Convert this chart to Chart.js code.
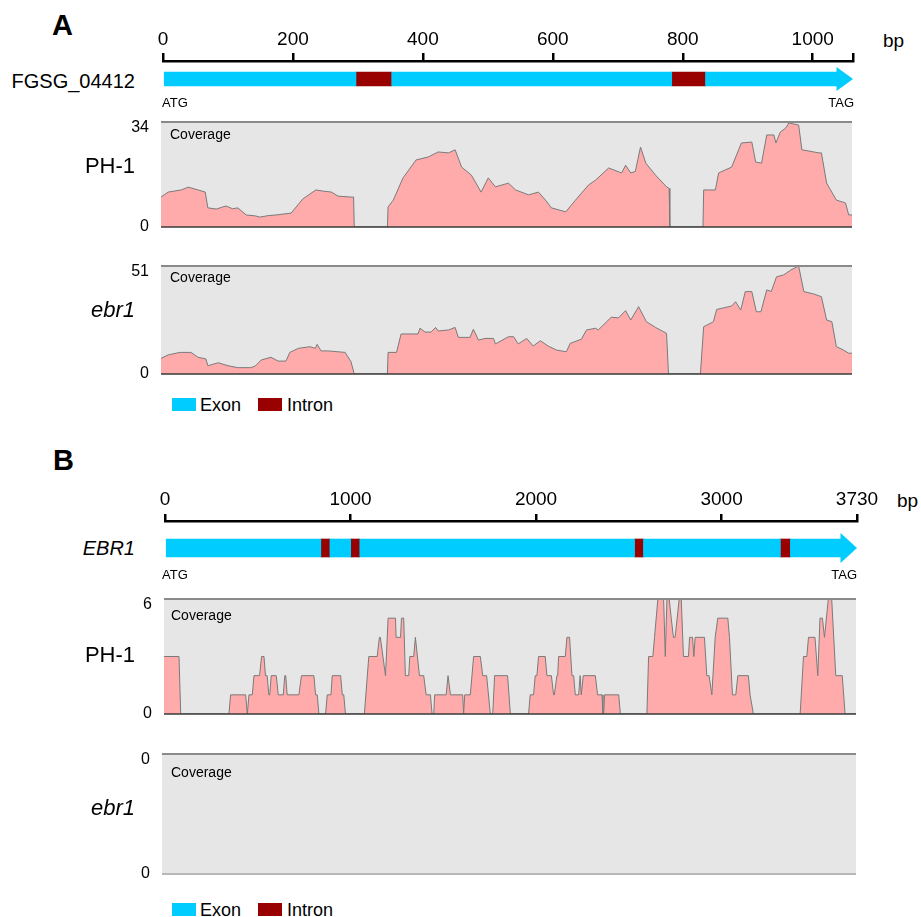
<!DOCTYPE html>
<html>
<head>
<meta charset="utf-8">
<script src="https://cdn.jsdelivr.net/npm/chart.js@4.4.1/dist/chart.umd.min.js"></script>
<style>
    body { margin: 0; background: #fff; }
    #fig { position: relative; width: 921px; height: 917px; overflow: hidden;
           font-family: "Liberation Sans", Arial, Helvetica, sans-serif; color: #000; }
    #fig canvas { position: absolute; }
    .lbl { position: absolute; line-height: 1; white-space: nowrap; }
    .key { position: absolute; width: 24px; height: 13px; }
</style>
</head>
<body>
<div id="fig"></div>
<script>
// ---- panel A : FGSG_04412 ----
const A_GENE = "FGSG_04412";
const A_LENGTH = 1062;
const A_TICKS = [0, 200, 400, 600, 800, 1000, 1062];
const A_TICK_LABELS = ["0", "200", "400", "600", "800", "1000", ""];
const A_EXONS = [[0, 297], [352, 783], [835, 1062]];
const A_INTRONS = [[297, 352], [783, 835]];
const A_PH1_RANGE = [0, 34];
const A_EBR1_RANGE = [0, 51];

// [bp, coverage]
const A_PH1 = [
    [0, 9.7], [11, 11.3], [31, 12], [42, 12.9], [57, 12], [68, 11.3], [72, 6.2], [85, 5.8],
    [95, 6.5], [100, 6.8], [110, 5.9], [118, 6.2], [131, 3.9], [145, 3.6], [152, 3.2],
    [165, 3.7], [177, 3.9], [200, 4.5], [218, 9.1], [238, 12], [250, 11.6], [262, 11.3],
    [272, 10], [291, 9.7], [296, 9.7], [297, 0], [348, 0], [349, 6.5], [357, 8.7],
    [372, 15.9], [392, 21.7], [411, 22.7], [426, 24.3], [442, 24], [452, 25], [462, 19.4],
    [477, 16.8], [492, 11.3], [503, 15.9], [514, 13], [534, 14.2], [545, 12], [565, 10.4],
    [580, 11.3], [591, 8.7], [600, 6.2], [622, 4.9], [637, 8.7], [657, 13.6], [668, 15.2],
    [688, 19.1], [708, 17.5], [714, 20], [722, 17.5], [729, 18], [737, 25.9], [745, 20.7],
    [760, 16.8], [777, 13], [781, 12.5], [782, 0], [833, 0], [834, 12], [852, 12],
    [857, 17.5], [877, 19.4], [892, 27.2], [908, 27.5], [914, 21], [923, 20.7], [931, 29.8],
    [942, 29.8], [945, 27.2], [952, 30.8], [960, 32], [965, 33.7], [980, 33], [985, 25],
    [1011, 24], [1015, 24], [1023, 14.2], [1038, 8.7], [1052, 7.8], [1057, 3.9], [1062, 3.9]
];

const A_EBR1 = [
    [0, 7.4], [11, 9], [29, 10.2], [46, 10.2], [57, 7.9], [69, 7.1], [72, 3.9], [88, 5.3],
    [103, 3.9], [118, 3], [138, 3], [145, 3.8], [154, 6.6], [169, 7.9], [180, 6.1],
    [192, 6.1], [198, 10.2], [211, 12.1], [229, 12.9], [237, 12.1], [240, 14], [246, 10.9],
    [257, 10.9], [283, 10.2], [292, 5.8], [297, 0], [348, 0], [349, 10.2], [362, 10.2],
    [369, 18.9], [395, 18.9], [398, 21.6], [406, 19.8], [415, 19.8], [422, 22], [426, 20.3],
    [442, 20.8], [452, 22], [457, 17.3], [475, 17.3], [480, 21.1], [488, 16], [498, 16.8],
    [511, 16.8], [514, 14.2], [534, 17.6], [542, 17.6], [549, 14.2], [562, 16.8], [572, 13.2],
    [583, 15.7], [595, 13.2], [608, 11.3], [623, 10.5], [629, 14.5], [646, 16.4], [654, 20.8],
    [668, 21.6], [672, 20.8], [692, 26.8], [703, 26.5], [714, 29.9], [722, 25.5], [734, 31.8],
    [746, 24.7], [760, 22], [777, 19.2], [780, 0], [829, 0], [834, 22.3], [849, 24.7],
    [854, 30.5], [877, 32.1], [883, 34.1], [891, 30.2], [898, 38.9], [908, 38.9], [915, 29.4],
    [922, 29.4], [931, 39.7], [938, 39], [946, 45.9], [957, 46.8], [968, 49.1], [980, 51],
    [988, 38.9], [1003, 37.8], [1015, 36.5], [1023, 25.5], [1031, 24.7], [1038, 12.9],
    [1049, 11.3], [1057, 9.8], [1062, 9.8]
];

// ---- panel B : EBR1 ----
const B_GENE = "EBR1";
const B_LENGTH = 3730;
const B_TICKS = [0, 1000, 2000, 3000, 3730];
const B_TICK_LABELS = ["0", "1000", "2000", "3000", "3730"];
const B_EXONS = [[0, 840], [889, 1001], [1050, 2531], [2579, 3317], [3371, 3730]];
const B_INTRONS = [[840, 889], [1001, 1050], [2531, 2579], [3317, 3371]];
const B_PH1_RANGE = [0, 6];
const B_EBR1_RANGE = [0, 0];

const B_PH1 = [
    [0, 3], [81, 3], [90, 0], [350, 0], [359, 1], [440, 1], [449, 0], [458, 1], [476, 1],
    [485, 2], [515, 2], [526, 3], [539, 3], [547, 2], [556, 2], [565, 1], [570, 1], [578, 2],
    [605, 2], [616, 1], [643, 1], [651, 2], [656, 2], [664, 1], [727, 1], [741, 2], [808, 2],
    [817, 1], [826, 1], [835, 0], [871, 0], [880, 1], [900, 1], [907, 2], [952, 2], [961, 1],
    [969, 1], [978, 0], [1080, 0], [1104, 3], [1149, 3], [1161, 4], [1166, 4], [1194, 2],
    [1208, 5], [1248, 5], [1251, 4], [1275, 4], [1280, 5], [1292, 5], [1301, 2], [1319, 2],
    [1325, 3], [1346, 3], [1355, 4], [1377, 2], [1400, 2], [1413, 1], [1436, 1], [1445, 0],
    [1454, 0], [1459, 1], [1521, 1], [1531, 2], [1544, 1], [1610, 1], [1615, 0], [1621, 1],
    [1651, 1], [1660, 2], [1669, 3], [1705, 3], [1718, 2], [1739, 2], [1759, 0], [1772, 0],
    [1782, 2], [1852, 2], [1867, 0], [1965, 0], [1974, 1], [1992, 1], [2001, 2], [2010, 2],
    [2019, 3], [2055, 3], [2064, 2], [2088, 2], [2100, 1], [2104, 1], [2118, 2], [2122, 2],
    [2127, 3], [2163, 3], [2172, 4], [2186, 4], [2199, 2], [2208, 2], [2217, 1], [2235, 1],
    [2243, 2], [2249, 1], [2252, 1], [2260, 2], [2325, 2], [2337, 1], [2361, 1], [2366, 0],
    [2370, 0], [2375, 1], [2451, 1], [2460, 0], [2603, 0], [2612, 3], [2635, 3], [2644, 4],
    [2662, 6], [2693, 6], [2702, 3], [2711, 6], [2723, 6], [2734, 5], [2746, 4], [2755, 4],
    [2777, 6], [2788, 6], [2800, 3], [2827, 3], [2833, 4], [2849, 4], [2856, 3], [2863, 4],
    [2913, 4], [2926, 2], [2938, 2], [2953, 1], [2971, 4], [2985, 5], [3039, 5], [3048, 4],
    [3064, 1], [3082, 1], [3093, 2], [3150, 2], [3159, 1], [3177, 0], [3429, 0], [3447, 3],
    [3465, 3], [3474, 4], [3509, 4], [3524, 2], [3536, 5], [3549, 5], [3560, 4], [3581, 6],
    [3599, 6], [3621, 2], [3656, 2], [3671, 0], [3730, 0]
];
const B_EBR1 = []; // no reads

const EXON_COLOR = "#00ccff";
const INTRON_COLOR = "#990000";
const COV_FILL = "#ffabab";
const COV_LINE = "#7a7a7a";
const FONT = '"Liberation Sans", Arial, Helvetica, sans-serif';

Chart.defaults.font.family = FONT;
Chart.defaults.color = "#000";

const fig = document.getElementById("fig");

function addCanvas(left, top, width, height) {
    const c = document.createElement("canvas");
    c.width = width;
    c.height = height;
    c.style.left = left + "px";
    c.style.top = top + "px";
    c.style.width = width + "px";
    c.style.height = height + "px";
    fig.appendChild(c);
    return c;
}

function addLabel(text, x, cy, size, opts = {}) {
    const d = document.createElement("div");
    d.className = "lbl";
    d.textContent = text;
    d.style.fontSize = size + "px";
    d.style.top = (cy - size / 2) + "px";
    if (opts.right) d.style.right = (921 - x) + "px";
    else d.style.left = x + "px";
    if (opts.bold) d.style.fontWeight = "bold";
    if (opts.italic) d.style.fontStyle = "italic";
    fig.appendChild(d);
}

function addKey(color, x, top) {
    const d = document.createElement("div");
    d.className = "key";
    d.style.left = x + "px";
    d.style.top = top + "px";
    d.style.background = color;
    fig.appendChild(d);
}

// clip the last exon and put an arrow head at the gene end
const arrowPlugin = {
    id: "arrow",
    beforeDatasetDraw(chart, args, opts) {
        if (args.index !== 0) return;
        const { ctx, chartArea } = chart;
        const tipX = chart.scales.x.getPixelForValue(chart.scales.x.max);
        ctx.save();
        ctx.beginPath();
        ctx.rect(chartArea.left - 5, chartArea.top,
            tipX - opts.headLength - chartArea.left + 5, chartArea.height);
        ctx.clip();
    },
    afterDatasetDraw(chart, args, opts) {
        if (args.index !== 0) return;
        const { ctx } = chart;
        ctx.restore();
        const meta = chart.getDatasetMeta(0);
        const bar = meta.data[meta.data.length - 1];
        const half = bar.height / 2 + opts.overhang;
        ctx.save();
        ctx.fillStyle = EXON_COLOR;
        ctx.beginPath();
        ctx.moveTo(bar.x - opts.headLength - 0.5, bar.y - half);
        ctx.lineTo(bar.x, bar.y);
        ctx.lineTo(bar.x - opts.headLength - 0.5, bar.y + half);
        ctx.closePath();
        ctx.fill();
        ctx.restore();
    }
};

// grey track background with top and bottom rules
const framePlugin = {
    id: "frame",
    beforeDraw(chart) {
        const { ctx, chartArea: a } = chart;
        ctx.save();
        ctx.fillStyle = "#e6e6e6";
        ctx.fillRect(a.left, a.top, a.width, a.height);
        ctx.restore();
    },
    afterDatasetsDraw(chart, args, opts) {
        const { ctx, chartArea: a } = chart;
        ctx.save();
        ctx.strokeStyle = "#8a8a8a";
        ctx.lineWidth = 2;
        ctx.beginPath();
        ctx.moveTo(a.left, a.top);
        ctx.lineTo(a.right, a.top);
        ctx.stroke();
        ctx.strokeStyle = opts.bottomColor;
        ctx.lineWidth = opts.bottomWidth;
        ctx.beginPath();
        ctx.moveTo(a.left, a.bottom);
        ctx.lineTo(a.right, a.bottom);
        ctx.stroke();
        ctx.restore();
    }
};

function geneChart(canvas, gene, length, ticks, tickLabels, exons, introns, look) {
    const toBars = segs => segs.map(([s, e]) => ({ x: [s, e], y: gene }));

    return new Chart(canvas, {
        type: "bar",
        data: {
            labels: [gene],
            datasets: [
                { label: "Exon", data: toBars(exons), backgroundColor: EXON_COLOR,
                  grouped: false, barThickness: look.barThickness, borderWidth: 0 },
                { label: "Intron", data: toBars(introns), backgroundColor: INTRON_COLOR,
                  grouped: false, barThickness: look.barThickness, borderWidth: 0 }
            ]
        },
        options: {
            indexAxis: "y",
            responsive: false,
            animation: false,
            events: [],
            layout: { padding: { left: 20, right: 30, top: 0, bottom: 0 } },
            plugins: {
                legend: { display: false },
                tooltip: { enabled: false },
                arrow: { headLength: look.headLength, overhang: look.overhang }
            },
            scales: {
                x: {
                    type: "linear",
                    position: "top",
                    min: 0,
                    max: length,
                    afterBuildTicks: scale => {
                        scale.ticks = ticks.map(v => ({ value: v }));
                    },
                    afterFit: scale => {
                        scale.height = 41;
                    },
                    ticks: {
                        autoSkip: false,
                        maxRotation: 0,
                        padding: look.tickPadding,
                        font: { size: 19 },
                        color: "#000",
                        callback: (v, i) => tickLabels[i]
                    },
                    grid: {
                        drawOnChartArea: false,
                        drawTicks: true,
                        tickLength: look.tickLength,
                        color: "#000",
                        lineWidth: 2.5
                    },
                    border: { display: true, color: "#000", width: 2.5 }
                },
                y: { display: false }
            }
        },
        plugins: [arrowPlugin]
    });
}

// padding is larger than the label overhang, so the plot box is canvas minus 20px
const COV_PAD = 20;

function coverageChart(canvas, points, range, length, bottom) {
    const yMax = range[1] || 1;

    return new Chart(canvas, {
        type: "line",
        data: {
            datasets: [{
                data: points,
                fill: "origin",
                backgroundColor: COV_FILL,
                borderColor: COV_LINE,
                borderWidth: 1,
                pointRadius: 0,
                tension: 0
            }]
        },
        options: {
            responsive: false,
            animation: false,
            events: [],
            layout: { padding: { left: 0, right: 0, top: COV_PAD, bottom: COV_PAD } },
            plugins: {
                legend: { display: false },
                tooltip: { enabled: false },
                frame: bottom
            },
            scales: {
                x: { type: "linear", min: 0, max: length, display: false },
                y: {
                    min: 0,
                    max: yMax,
                    afterBuildTicks: scale => {
                        scale.ticks = [{ value: 0 }, { value: yMax }];
                    },
                    afterFit: scale => {
                        scale.width = 40;
                    },
                    ticks: {
                        padding: 4,
                        // the max label sits a little below the top rule
                        font: ctx => ({ size: 16, lineHeight: ctx.index === 1 ? 0.75 : 1.2 }),
                        color: "#000",
                        callback: (v, i) => (i === 1 ? ["", String(range[1])] : String(range[0]))
                    },
                    grid: { display: false },
                    border: { display: false }
                }
            }
        },
        plugins: [framePlugin]
    });
}

// plot box: left, top, right, bottom in page pixels
function coverageTrack(box, points, range, length, bottom) {
    const [l, t, r, b] = box;
    const canvas = addCanvas(l - 40, t - COV_PAD, r - l + 40, b - t + 2 * COV_PAD);
    return coverageChart(canvas, points, range, length, bottom);
}

const DARK_RULE = { bottomColor: "#3a3a3a", bottomWidth: 1.5 };
const LIGHT_RULE = { bottomColor: "#b8b8b8", bottomWidth: 2 };

// ---- panel A ----
addLabel("A", 52, 25, 29, { bold: true });
geneChart(addCanvas(143, 20, 740, 77), A_GENE, A_LENGTH, A_TICKS, A_TICK_LABELS,
    A_EXONS, A_INTRONS,
    { barThickness: 14, headLength: 16, overhang: 5, tickLength: 8, tickPadding: 2 });
addLabel("bp", 883, 40, 19);
addLabel(A_GENE, 135, 81, 20, { right: true });
addLabel("ATG", 162, 102, 13);
addLabel("TAG", 854, 102, 13, { right: true });

coverageTrack([161, 122, 852, 227], A_PH1, A_PH1_RANGE, A_LENGTH, DARK_RULE);
addLabel("Coverage", 170, 134, 14);
addLabel("PH-1", 135, 166, 22, { right: true });

coverageTrack([161, 266, 852, 374], A_EBR1, A_EBR1_RANGE, A_LENGTH, DARK_RULE);
addLabel("Coverage", 170, 277, 14);
addLabel("ebr1", 135, 310, 22, { right: true, italic: true });

addKey(EXON_COLOR, 172, 398);
addLabel("Exon", 200, 405, 18);
addKey(INTRON_COLOR, 258, 398);
addLabel("Intron", 287, 405, 18);

// ---- panel B ----
addLabel("B", 53, 460, 29, { bold: true });
geneChart(addCanvas(145, 480, 742, 95), B_GENE, B_LENGTH, B_TICKS, B_TICK_LABELS,
    B_EXONS, B_INTRONS,
    { barThickness: 18, headLength: 16, overhang: 6, tickLength: 7, tickPadding: 3 });
addLabel("bp", 897, 500, 19);
addLabel(B_GENE, 135, 548, 20, { right: true, italic: true });
addLabel("ATG", 162, 574, 13);
addLabel("TAG", 857, 574, 13, { right: true });

coverageTrack([164, 599, 856, 714], B_PH1, B_PH1_RANGE, B_LENGTH, DARK_RULE);
addLabel("Coverage", 171, 615, 14);
addLabel("PH-1", 135, 655, 22, { right: true });

coverageTrack([162, 754, 856, 874], B_EBR1, B_EBR1_RANGE, B_LENGTH, LIGHT_RULE);
addLabel("Coverage", 171, 772, 14);
addLabel("ebr1", 135, 808, 22, { right: true, italic: true });

addKey(EXON_COLOR, 172, 903);
addLabel("Exon", 200, 910, 18);
addKey(INTRON_COLOR, 258, 903);
addLabel("Intron", 287, 910, 18);
</script>
</body>
</html>
